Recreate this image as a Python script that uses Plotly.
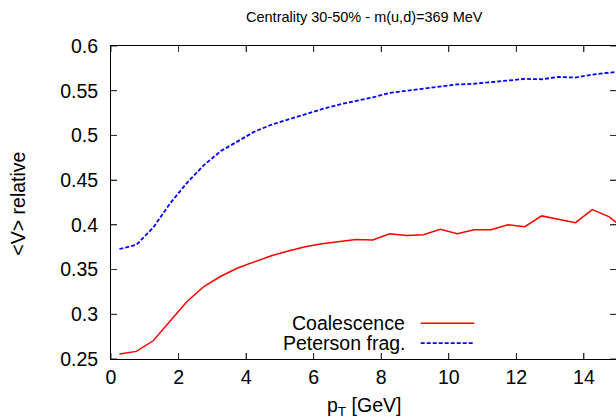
import plotly.graph_objects as go

pt = [0.25, 0.75, 1.25, 1.75, 2.25, 2.75, 3.25, 3.75, 4.25, 4.75,
      5.25, 5.75, 6.25, 6.75, 7.25, 7.75, 8.25, 8.75, 9.25, 9.75,
      10.25, 10.75, 11.25, 11.75, 12.25, 12.75, 13.25, 13.75, 14.25, 14.75, 15.25]

coalescence = [0.2556, 0.2585, 0.2704, 0.2924, 0.3143, 0.3310, 0.3425, 0.3518, 0.3589, 0.3655,
               0.3708, 0.3755, 0.3790, 0.3815, 0.3835, 0.3832, 0.3900, 0.3880, 0.3890, 0.3950,
               0.3900, 0.3946, 0.3946, 0.4000, 0.3980, 0.4100, 0.4066, 0.4025, 0.4170, 0.4090, 0.3940]

peterson = [0.3730, 0.3776, 0.3970, 0.4240, 0.4470, 0.4668, 0.4825, 0.4937, 0.5043, 0.5120,
            0.5180, 0.5238, 0.5295, 0.5345, 0.5386, 0.5425, 0.5475, 0.5500, 0.5525, 0.5548,
            0.5570, 0.5578, 0.5598, 0.5610, 0.5632, 0.5628, 0.5654, 0.5647, 0.5680, 0.5702, 0.5720]

x_ticks = [0, 2, 4, 6, 8, 10, 12, 14]
y_ticks = [0.25, 0.3, 0.35, 0.4, 0.45, 0.5, 0.55, 0.6]
y_tick_labels = ["0.25", "0.3", "0.35", "0.4", "0.45", "0.5", "0.55", "0.6"]

title_text = "Centrality 30-50% - m(u,d)=369 MeV"
series_names = ["Coalescence", "Peterson frag."]
series_colors = ["#ff0000", "#0000ff"]

FONT = "Liberation Sans, Arial, Helvetica, sans-serif"
FS = 19.5
TICK_COLOR = "#333333"
PLOT_W, PLOT_H = 505, 313  # plot-area size in pixels (616-111, 420-46-61)

fig = go.Figure()
fig.add_trace(go.Scatter(x=pt, y=coalescence, mode="lines", name=series_names[0],
                         line=dict(color=series_colors[0], width=1.5), showlegend=False))
fig.add_trace(go.Scatter(x=pt, y=peterson, mode="lines", name=series_names[1],
                         line=dict(color=series_colors[1], width=1.8, dash="4px,2px"), showlegend=False))

fig.update_layout(
    template="none",
    width=616, height=420,
    margin=dict(l=111, r=0, t=46, b=61),
    paper_bgcolor="white", plot_bgcolor="rgba(0,0,0,0)",
    font=dict(family=FONT, size=FS, color="black"),
    xaxis=dict(range=[0, 14.95], tickvals=x_ticks, ticks="inside", ticklen=6,
               tickcolor=TICK_COLOR, tickwidth=1, showline=True, linecolor="black",
               linewidth=1, mirror="allticks", showgrid=False, zeroline=False,
               tickfont=dict(size=FS), ticklabelstandoff=1, layer="above traces"),
    yaxis=dict(range=[0.25, 0.6], tickvals=y_ticks, ticktext=y_tick_labels,
               ticks="inside", ticklen=6, tickcolor=TICK_COLOR, tickwidth=1, showline=True,
               linecolor="black", linewidth=1, mirror="allticks", showgrid=False,
               zeroline=False, tickfont=dict(size=FS), ticklabelstandoff=8,
               layer="above traces"),
)

# frame drawn as shapes as well (left, bottom, top; right side lies outside the picture)
dx, dy = 0.5 / PLOT_W, 0.5 / PLOT_H
frame = dict(color="black", width=1)
fig.add_shape(type="line", xref="paper", yref="paper", x0=-dx, x1=-dx, y0=-dy, y1=1 + dy,
              line=frame, layer="above")
fig.add_shape(type="line", xref="paper", yref="paper", x0=-dx, x1=1.0, y0=-dy, y1=-dy,
              line=frame, layer="above")
fig.add_shape(type="line", xref="paper", yref="paper", x0=-dx, x1=1.0, y0=1 + dy, y1=1 + dy,
              line=frame, layer="above")

# inward tick marks (6 px) at the axis tick values
tx, ty = 6 / PLOT_W, 6 / PLOT_H
tick = dict(color=TICK_COLOR, width=1)
for t in x_ticks:
    fig.add_shape(type="line", xref="x", x0=t, x1=t, yref="paper", y0=0, y1=ty, line=tick)
    fig.add_shape(type="line", xref="x", x0=t, x1=t, yref="paper", y0=1 - ty, y1=1, line=tick)
for v in y_ticks:
    fig.add_shape(type="line", yref="y", y0=v, y1=v, xref="paper", x0=0, x1=tx, line=tick)
    fig.add_shape(type="line", yref="y", y0=v, y1=v, xref="paper", x0=1 - tx, x1=1, line=tick)

# title
fig.add_annotation(text=title_text, xref="paper", yref="paper", x=0.501, y=1.0927,
                   xanchor="center", yanchor="middle", showarrow=False,
                   font=dict(size=14.5, family=FONT))
# axis titles
fig.add_annotation(text="p<sub>T</sub> [GeV]", xref="paper", yref="paper", x=0.501, y=-0.1518,
                   xanchor="center", yanchor="middle", showarrow=False, font=dict(size=FS, family=FONT))
fig.add_annotation(text="&lt;V&gt; relative", xref="paper", yref="paper", x=-0.185, y=0.495,
                   xanchor="center", yanchor="middle", textangle=-90, showarrow=False,
                   font=dict(size=FS, family=FONT))

# legend (gnuplot style: text right-aligned, sample to the right)
legend_rows = [0.1143, 0.051]
dashes = ["solid", "4px,2px"]
widths = [1.5, 1.8]
for name, color, yy, dsh, w in zip(series_names, series_colors, legend_rows, dashes, widths):
    fig.add_annotation(text=name, xref="paper", yref="paper", x=0.587, y=yy,
                       xanchor="right", yanchor="middle", showarrow=False,
                       font=dict(size=FS, family=FONT))
    fig.add_shape(type="line", xref="paper", yref="paper", x0=0.6133, x1=0.7194, y0=yy, y1=yy,
                  line=dict(color=color, width=w, dash=dsh))

fig.write_html("out.html", config={"displayModeBar": False, "staticPlot": True},
               post_script="document.body.style.margin='0px';document.body.style.overflow='hidden';")
